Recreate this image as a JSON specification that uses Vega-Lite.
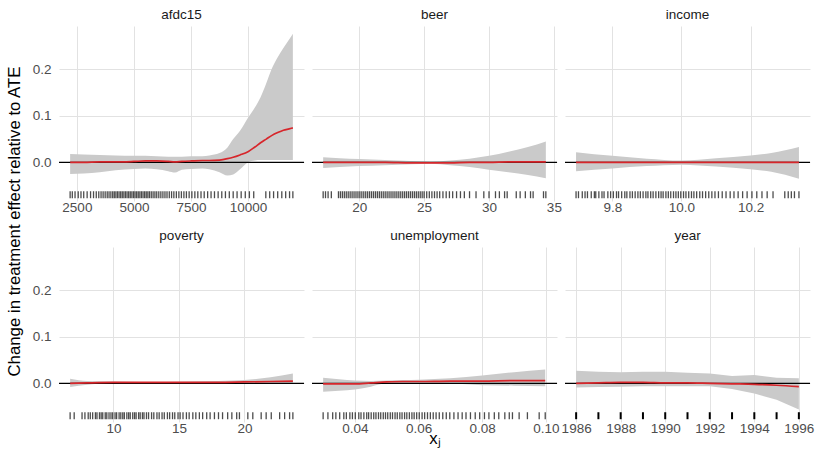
{
"$schema": "https://vega.github.io/schema/vega-lite/v6.json",
"padding": {"left": 6, "top": 7, "right": 2, "bottom": 2},
"background": "white",
"config": {
  "font": "Liberation Sans",
  "view": {"stroke": null},
  "axis": {"grid": true, "gridColor": "#E2E2E2", "gridWidth": 1, "domain": false, "ticks": false, "tickSize": 0, "labelFontSize": 13.5, "labelColor": "#4D4D4D", "labelPadding": 3, "titleFontSize": 16.8, "titleFontWeight": "normal", "titleColor": "#000000"},
  "axisX": {"labelPadding": -1},
  "title": {"fontSize": 13.5, "fontWeight": "normal", "color": "#1A1A1A", "offset": 5, "baseline": "alphabetic", "anchor": "middle"}
},
"datasets": {
  "curve": [
    {"v":"afdc15","x":2205,"est":0.000,"lo":-0.025,"hi":0.018},
    {"v":"afdc15","x":2800,"est":0.000,"lo":-0.024,"hi":0.017},
    {"v":"afdc15","x":3500,"est":0.001,"lo":-0.021,"hi":0.016},
    {"v":"afdc15","x":4200,"est":0.001,"lo":-0.017,"hi":0.015},
    {"v":"afdc15","x":5000,"est":0.002,"lo":-0.014,"hi":0.014},
    {"v":"afdc15","x":5500,"est":0.003,"lo":-0.013,"hi":0.014},
    {"v":"afdc15","x":6000,"est":0.003,"lo":-0.015,"hi":0.013},
    {"v":"afdc15","x":6500,"est":0.002,"lo":-0.019,"hi":0.012},
    {"v":"afdc15","x":6800,"est":0.001,"lo":-0.022,"hi":0.012},
    {"v":"afdc15","x":7100,"est":0.002,"lo":-0.016,"hi":0.012},
    {"v":"afdc15","x":7500,"est":0.003,"lo":-0.014,"hi":0.013},
    {"v":"afdc15","x":8000,"est":0.004,"lo":-0.013,"hi":0.013},
    {"v":"afdc15","x":8300,"est":0.004,"lo":-0.015,"hi":0.015},
    {"v":"afdc15","x":8750,"est":0.005,"lo":-0.021,"hi":0.020},
    {"v":"afdc15","x":9100,"est":0.008,"lo":-0.028,"hi":0.032},
    {"v":"afdc15","x":9350,"est":0.011,"lo":-0.026,"hi":0.050},
    {"v":"afdc15","x":9650,"est":0.016,"lo":-0.015,"hi":0.068},
    {"v":"afdc15","x":10000,"est":0.023,"lo":0.000,"hi":0.096},
    {"v":"afdc15","x":10300,"est":0.033,"lo":0.004,"hi":0.118},
    {"v":"afdc15","x":10550,"est":0.042,"lo":0.005,"hi":0.140},
    {"v":"afdc15","x":10800,"est":0.050,"lo":0.005,"hi":0.170},
    {"v":"afdc15","x":11050,"est":0.058,"lo":0.005,"hi":0.202},
    {"v":"afdc15","x":11300,"est":0.064,"lo":0.005,"hi":0.226},
    {"v":"afdc15","x":11550,"est":0.069,"lo":0.005,"hi":0.246},
    {"v":"afdc15","x":11800,"est":0.072,"lo":0.005,"hi":0.264},
    {"v":"afdc15","x":11965,"est":0.074,"lo":0.005,"hi":0.2765},
    {"v":"beer","x":17.22,"est":0.000,"lo":-0.012,"hi":0.011},
    {"v":"beer","x":18.5,"est":0.000,"lo":-0.010,"hi":0.009},
    {"v":"beer","x":20,"est":0.000,"lo":-0.008,"hi":0.007},
    {"v":"beer","x":22,"est":0.000,"lo":-0.006,"hi":0.005},
    {"v":"beer","x":24,"est":-0.001,"lo":-0.004,"hi":0.003},
    {"v":"beer","x":25.5,"est":-0.001,"lo":-0.003,"hi":0.002},
    {"v":"beer","x":27,"est":-0.001,"lo":-0.006,"hi":0.004},
    {"v":"beer","x":28.5,"est":0.000,"lo":-0.010,"hi":0.008},
    {"v":"beer","x":30,"est":0.000,"lo":-0.016,"hi":0.014},
    {"v":"beer","x":31.5,"est":0.001,"lo":-0.021,"hi":0.023},
    {"v":"beer","x":33,"est":0.001,"lo":-0.027,"hi":0.033},
    {"v":"beer","x":34.38,"est":0.001,"lo":-0.034,"hi":0.045},
    {"v":"income","x":9.695,"est":0.000,"lo":-0.019,"hi":0.022},
    {"v":"income","x":9.8,"est":0.000,"lo":-0.013,"hi":0.014},
    {"v":"income","x":9.9,"est":0.000,"lo":-0.008,"hi":0.008},
    {"v":"income","x":10.0,"est":0.000,"lo":-0.005,"hi":0.004},
    {"v":"income","x":10.1,"est":0.000,"lo":-0.009,"hi":0.009},
    {"v":"income","x":10.2,"est":0.000,"lo":-0.015,"hi":0.015},
    {"v":"income","x":10.26,"est":0.000,"lo":-0.020,"hi":0.020},
    {"v":"income","x":10.34,"est":0.000,"lo":-0.035,"hi":0.033},
    {"v":"poverty","x":6.69,"est":0.000,"lo":-0.008,"hi":0.010},
    {"v":"poverty","x":8,"est":0.001,"lo":-0.003,"hi":0.005},
    {"v":"poverty","x":10,"est":0.002,"lo":0.000,"hi":0.004},
    {"v":"poverty","x":12,"est":0.002,"lo":0.000,"hi":0.003},
    {"v":"poverty","x":14,"est":0.002,"lo":0.001,"hi":0.003},
    {"v":"poverty","x":16,"est":0.002,"lo":0.000,"hi":0.004},
    {"v":"poverty","x":18,"est":0.002,"lo":0.000,"hi":0.005},
    {"v":"poverty","x":20,"est":0.003,"lo":0.000,"hi":0.007},
    {"v":"poverty","x":22,"est":0.004,"lo":0.000,"hi":0.013},
    {"v":"poverty","x":23.7,"est":0.005,"lo":0.000,"hi":0.021},
    {"v":"unemployment","x":0.030,"est":-0.001,"lo":-0.018,"hi":0.012},
    {"v":"unemployment","x":0.035,"est":-0.001,"lo":-0.016,"hi":0.009},
    {"v":"unemployment","x":0.040,"est":-0.001,"lo":-0.013,"hi":0.006},
    {"v":"unemployment","x":0.045,"est":0.001,"lo":-0.007,"hi":0.005},
    {"v":"unemployment","x":0.050,"est":0.003,"lo":0.000,"hi":0.006},
    {"v":"unemployment","x":0.055,"est":0.004,"lo":0.001,"hi":0.007},
    {"v":"unemployment","x":0.060,"est":0.004,"lo":0.001,"hi":0.008},
    {"v":"unemployment","x":0.070,"est":0.005,"lo":0.000,"hi":0.011},
    {"v":"unemployment","x":0.080,"est":0.005,"lo":-0.004,"hi":0.017},
    {"v":"unemployment","x":0.090,"est":0.006,"lo":-0.005,"hi":0.024},
    {"v":"unemployment","x":0.0998,"est":0.006,"lo":-0.006,"hi":0.030},
    {"v":"year","x":1986,"est":0.000,"lo":-0.009,"hi":0.027},
    {"v":"year","x":1987,"est":0.001,"lo":-0.008,"hi":0.025},
    {"v":"year","x":1988,"est":0.002,"lo":-0.007,"hi":0.024},
    {"v":"year","x":1989,"est":0.002,"lo":-0.006,"hi":0.025},
    {"v":"year","x":1990,"est":0.001,"lo":-0.006,"hi":0.025},
    {"v":"year","x":1991,"est":0.001,"lo":-0.006,"hi":0.023},
    {"v":"year","x":1992,"est":0.000,"lo":-0.006,"hi":0.021},
    {"v":"year","x":1993,"est":-0.001,"lo":-0.012,"hi":0.016},
    {"v":"year","x":1994,"est":-0.002,"lo":-0.022,"hi":0.018},
    {"v":"year","x":1995,"est":-0.004,"lo":-0.035,"hi":0.012},
    {"v":"year","x":1996,"est":-0.007,"lo":-0.056,"hi":0.011}
  ],
  "rug": [
    {"v":"afdc15","x":2205},{"v":"afdc15","x":2300},{"v":"afdc15","x":2420},{"v":"afdc15","x":2560},{"v":"afdc15","x":2680},{"v":"afdc15","x":2800},{"v":"afdc15","x":2950},{"v":"afdc15","x":3100},{"v":"afdc15","x":3230},{"v":"afdc15","x":3350},{"v":"afdc15","x":3460},{"v":"afdc15","x":3560},{"v":"afdc15","x":3650},{"v":"afdc15","x":3740},{"v":"afdc15","x":3830},{"v":"afdc15","x":3910},{"v":"afdc15","x":3990},{"v":"afdc15","x":4070},{"v":"afdc15","x":4140},{"v":"afdc15","x":4210},{"v":"afdc15","x":4280},{"v":"afdc15","x":4350},{"v":"afdc15","x":4420},{"v":"afdc15","x":4490},{"v":"afdc15","x":4560},{"v":"afdc15","x":4630},{"v":"afdc15","x":4700},{"v":"afdc15","x":4770},{"v":"afdc15","x":4840},{"v":"afdc15","x":4910},{"v":"afdc15","x":4980},{"v":"afdc15","x":5050},{"v":"afdc15","x":5120},{"v":"afdc15","x":5190},{"v":"afdc15","x":5260},{"v":"afdc15","x":5330},{"v":"afdc15","x":5400},{"v":"afdc15","x":5470},{"v":"afdc15","x":5540},{"v":"afdc15","x":5610},{"v":"afdc15","x":5680},{"v":"afdc15","x":5760},{"v":"afdc15","x":5840},{"v":"afdc15","x":5920},{"v":"afdc15","x":6000},{"v":"afdc15","x":6090},{"v":"afdc15","x":6180},{"v":"afdc15","x":6270},{"v":"afdc15","x":6360},{"v":"afdc15","x":6450},{"v":"afdc15","x":6550},{"v":"afdc15","x":6650},{"v":"afdc15","x":6750},{"v":"afdc15","x":6860},{"v":"afdc15","x":6970},{"v":"afdc15","x":7080},{"v":"afdc15","x":7190},{"v":"afdc15","x":7300},{"v":"afdc15","x":7420},{"v":"afdc15","x":7540},{"v":"afdc15","x":7670},{"v":"afdc15","x":7800},{"v":"afdc15","x":7940},{"v":"afdc15","x":8080},{"v":"afdc15","x":8230},{"v":"afdc15","x":8380},{"v":"afdc15","x":8530},{"v":"afdc15","x":8690},{"v":"afdc15","x":8850},{"v":"afdc15","x":9010},{"v":"afdc15","x":9180},{"v":"afdc15","x":9350},{"v":"afdc15","x":9520},{"v":"afdc15","x":9700},{"v":"afdc15","x":9880},{"v":"afdc15","x":10060},{"v":"afdc15","x":10250},{"v":"afdc15","x":10780},{"v":"afdc15","x":10950},{"v":"afdc15","x":11120},{"v":"afdc15","x":11300},{"v":"afdc15","x":11480},{"v":"afdc15","x":11650},{"v":"afdc15","x":11820},{"v":"afdc15","x":11965},
    {"v":"beer","x":17.22},{"v":"beer","x":17.4},{"v":"beer","x":17.6},{"v":"beer","x":17.85},{"v":"beer","x":18.4},{"v":"beer","x":18.55},{"v":"beer","x":18.7},{"v":"beer","x":18.85},{"v":"beer","x":19.0},{"v":"beer","x":19.15},{"v":"beer","x":19.3},{"v":"beer","x":19.45},{"v":"beer","x":19.6},{"v":"beer","x":19.75},{"v":"beer","x":19.9},{"v":"beer","x":20.05},{"v":"beer","x":20.2},{"v":"beer","x":20.35},{"v":"beer","x":20.5},{"v":"beer","x":20.65},{"v":"beer","x":20.8},{"v":"beer","x":20.95},{"v":"beer","x":21.1},{"v":"beer","x":21.25},{"v":"beer","x":21.4},{"v":"beer","x":21.55},{"v":"beer","x":21.7},{"v":"beer","x":21.85},{"v":"beer","x":22.0},{"v":"beer","x":22.15},{"v":"beer","x":22.3},{"v":"beer","x":22.45},{"v":"beer","x":22.6},{"v":"beer","x":22.75},{"v":"beer","x":22.9},{"v":"beer","x":23.05},{"v":"beer","x":23.2},{"v":"beer","x":23.35},{"v":"beer","x":23.5},{"v":"beer","x":23.65},{"v":"beer","x":23.8},{"v":"beer","x":23.95},{"v":"beer","x":24.1},{"v":"beer","x":24.25},{"v":"beer","x":24.4},{"v":"beer","x":24.55},{"v":"beer","x":24.7},{"v":"beer","x":24.85},{"v":"beer","x":25.0},{"v":"beer","x":25.2},{"v":"beer","x":25.4},{"v":"beer","x":25.6},{"v":"beer","x":25.8},{"v":"beer","x":26.0},{"v":"beer","x":26.2},{"v":"beer","x":26.45},{"v":"beer","x":26.7},{"v":"beer","x":26.95},{"v":"beer","x":27.2},{"v":"beer","x":27.5},{"v":"beer","x":27.8},{"v":"beer","x":28.1},{"v":"beer","x":28.5},{"v":"beer","x":29.0},{"v":"beer","x":29.6},{"v":"beer","x":30.0},{"v":"beer","x":30.5},{"v":"beer","x":30.8},{"v":"beer","x":31.2},{"v":"beer","x":31.4},{"v":"beer","x":32.1},{"v":"beer","x":32.4},{"v":"beer","x":32.8},{"v":"beer","x":33.2},{"v":"beer","x":33.4},{"v":"beer","x":34.2},{"v":"beer","x":34.38},
    {"v":"income","x":9.695},{"v":"income","x":9.702},{"v":"income","x":9.713},{"v":"income","x":9.721},{"v":"income","x":9.728},{"v":"income","x":9.739},{"v":"income","x":9.748},{"v":"income","x":9.752},{"v":"income","x":9.761},{"v":"income","x":9.77},{"v":"income","x":9.776},{"v":"income","x":9.787},{"v":"income","x":9.795},{"v":"income","x":9.803},{"v":"income","x":9.812},{"v":"income","x":9.818},{"v":"income","x":9.827},{"v":"income","x":9.836},{"v":"income","x":9.842},{"v":"income","x":9.851},{"v":"income","x":9.858},{"v":"income","x":9.866},{"v":"income","x":9.874},{"v":"income","x":9.881},{"v":"income","x":9.889},{"v":"income","x":9.897},{"v":"income","x":9.903},{"v":"income","x":9.911},{"v":"income","x":9.918},{"v":"income","x":9.926},{"v":"income","x":9.934},{"v":"income","x":9.941},{"v":"income","x":9.947},{"v":"income","x":9.955},{"v":"income","x":9.962},{"v":"income","x":9.969},{"v":"income","x":9.977},{"v":"income","x":9.984},{"v":"income","x":9.991},{"v":"income","x":9.998},{"v":"income","x":10.006},{"v":"income","x":10.013},{"v":"income","x":10.021},{"v":"income","x":10.029},{"v":"income","x":10.036},{"v":"income","x":10.044},{"v":"income","x":10.053},{"v":"income","x":10.061},{"v":"income","x":10.07},{"v":"income","x":10.079},{"v":"income","x":10.088},{"v":"income","x":10.097},{"v":"income","x":10.107},{"v":"income","x":10.118},{"v":"income","x":10.129},{"v":"income","x":10.141},{"v":"income","x":10.152},{"v":"income","x":10.164},{"v":"income","x":10.177},{"v":"income","x":10.19},{"v":"income","x":10.204},{"v":"income","x":10.218},{"v":"income","x":10.233},{"v":"income","x":10.248},{"v":"income","x":10.265},{"v":"income","x":10.299},{"v":"income","x":10.309},{"v":"income","x":10.318},{"v":"income","x":10.327},{"v":"income","x":10.34},
    {"v":"poverty","x":6.69},{"v":"poverty","x":7.0},{"v":"poverty","x":7.6},{"v":"poverty","x":7.82},{"v":"poverty","x":8.07},{"v":"poverty","x":8.23},{"v":"poverty","x":8.41},{"v":"poverty","x":8.62},{"v":"poverty","x":8.74},{"v":"poverty","x":8.93},{"v":"poverty","x":9.06},{"v":"poverty","x":9.18},{"v":"poverty","x":9.37},{"v":"poverty","x":9.49},{"v":"poverty","x":9.66},{"v":"poverty","x":9.81},{"v":"poverty","x":9.94},{"v":"poverty","x":10.12},{"v":"poverty","x":10.24},{"v":"poverty","x":10.43},{"v":"poverty","x":10.56},{"v":"poverty","x":10.71},{"v":"poverty","x":10.83},{"v":"poverty","x":11.02},{"v":"poverty","x":11.16},{"v":"poverty","x":11.28},{"v":"poverty","x":11.47},{"v":"poverty","x":11.61},{"v":"poverty","x":11.73},{"v":"poverty","x":11.92},{"v":"poverty","x":12.04},{"v":"poverty","x":12.21},{"v":"poverty","x":12.33},{"v":"poverty","x":12.52},{"v":"poverty","x":12.68},{"v":"poverty","x":12.91},{"v":"poverty","x":13.08},{"v":"poverty","x":13.32},{"v":"poverty","x":13.49},{"v":"poverty","x":13.71},{"v":"poverty","x":13.88},{"v":"poverty","x":14.12},{"v":"poverty","x":14.29},{"v":"poverty","x":14.51},{"v":"poverty","x":14.68},{"v":"poverty","x":14.93},{"v":"poverty","x":15.09},{"v":"poverty","x":15.31},{"v":"poverty","x":15.57},{"v":"poverty","x":15.78},{"v":"poverty","x":16.06},{"v":"poverty","x":16.29},{"v":"poverty","x":16.56},{"v":"poverty","x":16.81},{"v":"poverty","x":17.12},{"v":"poverty","x":17.38},{"v":"poverty","x":17.71},{"v":"poverty","x":18.02},{"v":"poverty","x":18.33},{"v":"poverty","x":18.72},{"v":"poverty","x":19.04},{"v":"poverty","x":19.41},{"v":"poverty","x":19.62},{"v":"poverty","x":20.26},{"v":"poverty","x":20.64},{"v":"poverty","x":21.28},{"v":"poverty","x":21.66},{"v":"poverty","x":22.05},{"v":"poverty","x":22.69},{"v":"poverty","x":23.07},{"v":"poverty","x":23.45},{"v":"poverty","x":23.7},
    {"v":"unemployment","x":0.030},{"v":"unemployment","x":0.0315},{"v":"unemployment","x":0.033},{"v":"unemployment","x":0.034},{"v":"unemployment","x":0.0352},{"v":"unemployment","x":0.0365},{"v":"unemployment","x":0.0373},{"v":"unemployment","x":0.0384},{"v":"unemployment","x":0.0392},{"v":"unemployment","x":0.0401},{"v":"unemployment","x":0.0412},{"v":"unemployment","x":0.0419},{"v":"unemployment","x":0.0428},{"v":"unemployment","x":0.0437},{"v":"unemployment","x":0.0443},{"v":"unemployment","x":0.0451},{"v":"unemployment","x":0.0459},{"v":"unemployment","x":0.0466},{"v":"unemployment","x":0.0474},{"v":"unemployment","x":0.0481},{"v":"unemployment","x":0.0489},{"v":"unemployment","x":0.0496},{"v":"unemployment","x":0.0503},{"v":"unemployment","x":0.0511},{"v":"unemployment","x":0.0518},{"v":"unemployment","x":0.0526},{"v":"unemployment","x":0.0533},{"v":"unemployment","x":0.0541},{"v":"unemployment","x":0.0548},{"v":"unemployment","x":0.0556},{"v":"unemployment","x":0.0563},{"v":"unemployment","x":0.0571},{"v":"unemployment","x":0.0579},{"v":"unemployment","x":0.0586},{"v":"unemployment","x":0.0594},{"v":"unemployment","x":0.0602},{"v":"unemployment","x":0.0611},{"v":"unemployment","x":0.0619},{"v":"unemployment","x":0.0628},{"v":"unemployment","x":0.0637},{"v":"unemployment","x":0.0646},{"v":"unemployment","x":0.0655},{"v":"unemployment","x":0.0665},{"v":"unemployment","x":0.0676},{"v":"unemployment","x":0.0687},{"v":"unemployment","x":0.0698},{"v":"unemployment","x":0.0711},{"v":"unemployment","x":0.0724},{"v":"unemployment","x":0.0737},{"v":"unemployment","x":0.0749},{"v":"unemployment","x":0.0763},{"v":"unemployment","x":0.0778},{"v":"unemployment","x":0.0792},{"v":"unemployment","x":0.0807},{"v":"unemployment","x":0.0821},{"v":"unemployment","x":0.0838},{"v":"unemployment","x":0.0852},{"v":"unemployment","x":0.0871},{"v":"unemployment","x":0.0885},{"v":"unemployment","x":0.0895},{"v":"unemployment","x":0.0916},{"v":"unemployment","x":0.0942},{"v":"unemployment","x":0.0979},{"v":"unemployment","x":0.0998},
    {"v":"year","x":1986},{"v":"year","x":1987},{"v":"year","x":1988},{"v":"year","x":1989},{"v":"year","x":1990},{"v":"year","x":1991},{"v":"year","x":1992},{"v":"year","x":1993},{"v":"year","x":1994},{"v":"year","x":1995},{"v":"year","x":1996}
  ]
},
"bounds": "flush",
"columns": 3,
"spacing": {"row": 46, "column": 8},
"concat": [
  {"width": 245, "height": 175, "title": "afdc15", "layer": [
    {"data": {"name": "curve"}, "transform": [{"filter": "datum.v === 'afdc15'"}], "mark": {"type": "area", "color": "#CACACA", "opacity": 1, "interpolate": "monotone"},
     "encoding": {"x": {"field": "x", "type": "quantitative", "scale": {"domain": [1717, 12453], "nice": false, "zero": false}, "axis": {"values": [2500, 5000, 7500, 10000], "format": "d", "title": null}},
                  "y": {"field": "lo", "type": "quantitative", "scale": {"domain": [-0.083, 0.293], "nice": false, "zero": false}, "axis": {"values": [0, 0.1, 0.2], "format": ".1f", "labelPadding": 8, "title": "Change in treatment effect relative to ATE", "titleY": 195, "titlePadding": 9}},
                  "y2": {"field": "hi"}}},
    {"data": {"values": [{}]}, "mark": {"type": "rule", "color": "#000000", "strokeWidth": 1.1}, "encoding": {"y": {"datum": 0, "type": "quantitative"}}},
    {"data": {"name": "curve"}, "transform": [{"filter": "datum.v === 'afdc15'"}], "mark": {"type": "line", "color": "#D7262B", "strokeWidth": 1.7, "interpolate": "monotone"},
     "encoding": {"x": {"field": "x", "type": "quantitative"}, "y": {"field": "est", "type": "quantitative"}}},
    {"data": {"name": "rug"}, "transform": [{"filter": "datum.v === 'afdc15'"}], "mark": {"type": "rule", "color": "#000000", "opacity": 0.7, "strokeWidth": 1.3},
     "encoding": {"x": {"field": "x", "type": "quantitative"}, "y": {"datum": -0.062, "type": "quantitative"}, "y2": {"datum": -0.077}}}
  ]},
  {"width": 245, "height": 175, "title": "beer", "layer": [
    {"data": {"name": "curve"}, "transform": [{"filter": "datum.v === 'beer'"}], "mark": {"type": "area", "color": "#CACACA", "opacity": 1, "interpolate": "monotone"},
     "encoding": {"x": {"field": "x", "type": "quantitative", "scale": {"domain": [16.36, 35.24], "nice": false, "zero": false}, "axis": {"values": [20, 25, 30, 35], "format": "d", "title": null}},
                  "y": {"field": "lo", "type": "quantitative", "scale": {"domain": [-0.083, 0.293], "nice": false, "zero": false}, "axis": {"values": [0, 0.1, 0.2], "labels": false, "title": null}},
                  "y2": {"field": "hi"}}},
    {"data": {"values": [{}]}, "mark": {"type": "rule", "color": "#000000", "strokeWidth": 1.1}, "encoding": {"y": {"datum": 0, "type": "quantitative"}}},
    {"data": {"name": "curve"}, "transform": [{"filter": "datum.v === 'beer'"}], "mark": {"type": "line", "color": "#D7262B", "strokeWidth": 1.7, "interpolate": "monotone"},
     "encoding": {"x": {"field": "x", "type": "quantitative"}, "y": {"field": "est", "type": "quantitative"}}},
    {"data": {"name": "rug"}, "transform": [{"filter": "datum.v === 'beer'"}], "mark": {"type": "rule", "color": "#000000", "opacity": 0.7, "strokeWidth": 1.3},
     "encoding": {"x": {"field": "x", "type": "quantitative"}, "y": {"datum": -0.062, "type": "quantitative"}, "y2": {"datum": -0.077}}}
  ]},
  {"width": 245, "height": 175, "title": "income", "layer": [
    {"data": {"name": "curve"}, "transform": [{"filter": "datum.v === 'income'"}], "mark": {"type": "area", "color": "#CACACA", "opacity": 1, "interpolate": "monotone"},
     "encoding": {"x": {"field": "x", "type": "quantitative", "scale": {"domain": [9.663, 10.372], "nice": false, "zero": false}, "axis": {"values": [9.8, 10.0, 10.2], "format": ".1f", "title": null}},
                  "y": {"field": "lo", "type": "quantitative", "scale": {"domain": [-0.083, 0.293], "nice": false, "zero": false}, "axis": {"values": [0, 0.1, 0.2], "labels": false, "title": null}},
                  "y2": {"field": "hi"}}},
    {"data": {"values": [{}]}, "mark": {"type": "rule", "color": "#000000", "strokeWidth": 1.1}, "encoding": {"y": {"datum": 0, "type": "quantitative"}}},
    {"data": {"name": "curve"}, "transform": [{"filter": "datum.v === 'income'"}], "mark": {"type": "line", "color": "#D7262B", "strokeWidth": 1.7, "interpolate": "monotone"},
     "encoding": {"x": {"field": "x", "type": "quantitative"}, "y": {"field": "est", "type": "quantitative"}}},
    {"data": {"name": "rug"}, "transform": [{"filter": "datum.v === 'income'"}], "mark": {"type": "rule", "color": "#000000", "opacity": 0.7, "strokeWidth": 1.3},
     "encoding": {"x": {"field": "x", "type": "quantitative"}, "y": {"datum": -0.062, "type": "quantitative"}, "y2": {"datum": -0.077}}}
  ]},
  {"width": 245, "height": 175, "title": "poverty", "layer": [
    {"data": {"name": "curve"}, "transform": [{"filter": "datum.v === 'poverty'"}], "mark": {"type": "area", "color": "#CACACA", "opacity": 1, "interpolate": "monotone"},
     "encoding": {"x": {"field": "x", "type": "quantitative", "scale": {"domain": [5.84, 24.55], "nice": false, "zero": false}, "axis": {"values": [10, 15, 20], "format": "d", "title": null}},
                  "y": {"field": "lo", "type": "quantitative", "scale": {"domain": [-0.083, 0.293], "nice": false, "zero": false}, "axis": {"values": [0, 0.1, 0.2], "format": ".1f", "labelPadding": 8, "title": null}},
                  "y2": {"field": "hi"}}},
    {"data": {"values": [{}]}, "mark": {"type": "rule", "color": "#000000", "strokeWidth": 1.1}, "encoding": {"y": {"datum": 0, "type": "quantitative"}}},
    {"data": {"name": "curve"}, "transform": [{"filter": "datum.v === 'poverty'"}], "mark": {"type": "line", "color": "#D7262B", "strokeWidth": 1.7, "interpolate": "monotone"},
     "encoding": {"x": {"field": "x", "type": "quantitative"}, "y": {"field": "est", "type": "quantitative"}}},
    {"data": {"name": "rug"}, "transform": [{"filter": "datum.v === 'poverty'"}], "mark": {"type": "rule", "color": "#000000", "opacity": 0.7, "strokeWidth": 1.3},
     "encoding": {"x": {"field": "x", "type": "quantitative"}, "y": {"datum": -0.062, "type": "quantitative"}, "y2": {"datum": -0.077}}}
  ]},
  {"width": 245, "height": 175, "title": "unemployment", "layer": [
    {"data": {"name": "curve"}, "transform": [{"filter": "datum.v === 'unemployment'"}], "mark": {"type": "area", "color": "#CACACA", "opacity": 1, "interpolate": "monotone"},
     "encoding": {"x": {"field": "x", "type": "quantitative", "scale": {"domain": [0.0265, 0.1035], "nice": false, "zero": false}, "axis": {"values": [0.04, 0.06, 0.08, 0.1], "format": ".2f", "title": "xⱼ", "titlePadding": -4}},
                  "y": {"field": "lo", "type": "quantitative", "scale": {"domain": [-0.083, 0.293], "nice": false, "zero": false}, "axis": {"values": [0, 0.1, 0.2], "labels": false, "title": null}},
                  "y2": {"field": "hi"}}},
    {"data": {"values": [{}]}, "mark": {"type": "rule", "color": "#000000", "strokeWidth": 1.1}, "encoding": {"y": {"datum": 0, "type": "quantitative"}}},
    {"data": {"name": "curve"}, "transform": [{"filter": "datum.v === 'unemployment'"}], "mark": {"type": "line", "color": "#D7262B", "strokeWidth": 1.7, "interpolate": "monotone"},
     "encoding": {"x": {"field": "x", "type": "quantitative"}, "y": {"field": "est", "type": "quantitative"}}},
    {"data": {"name": "rug"}, "transform": [{"filter": "datum.v === 'unemployment'"}], "mark": {"type": "rule", "color": "#000000", "opacity": 0.7, "strokeWidth": 1.3},
     "encoding": {"x": {"field": "x", "type": "quantitative"}, "y": {"datum": -0.062, "type": "quantitative"}, "y2": {"datum": -0.077}}}
  ]},
  {"width": 245, "height": 175, "title": "year", "layer": [
    {"data": {"name": "curve"}, "transform": [{"filter": "datum.v === 'year'"}], "mark": {"type": "area", "color": "#CACACA", "opacity": 1},
     "encoding": {"x": {"field": "x", "type": "quantitative", "scale": {"domain": [1985.5, 1996.5], "nice": false, "zero": false}, "axis": {"values": [1986, 1988, 1990, 1992, 1994, 1996], "format": "d", "title": null}},
                  "y": {"field": "lo", "type": "quantitative", "scale": {"domain": [-0.083, 0.293], "nice": false, "zero": false}, "axis": {"values": [0, 0.1, 0.2], "labels": false, "title": null}},
                  "y2": {"field": "hi"}}},
    {"data": {"values": [{}]}, "mark": {"type": "rule", "color": "#000000", "strokeWidth": 1.1}, "encoding": {"y": {"datum": 0, "type": "quantitative"}}},
    {"data": {"name": "curve"}, "transform": [{"filter": "datum.v === 'year'"}], "mark": {"type": "line", "color": "#D7262B", "strokeWidth": 1.7, "interpolate": "monotone"},
     "encoding": {"x": {"field": "x", "type": "quantitative"}, "y": {"field": "est", "type": "quantitative"}}},
    {"data": {"name": "rug"}, "transform": [{"filter": "datum.v === 'year'"}], "mark": {"type": "rule", "color": "#000000", "opacity": 1, "strokeWidth": 2},
     "encoding": {"x": {"field": "x", "type": "quantitative"}, "y": {"datum": -0.062, "type": "quantitative"}, "y2": {"datum": -0.077}}}
  ]}
]
}
